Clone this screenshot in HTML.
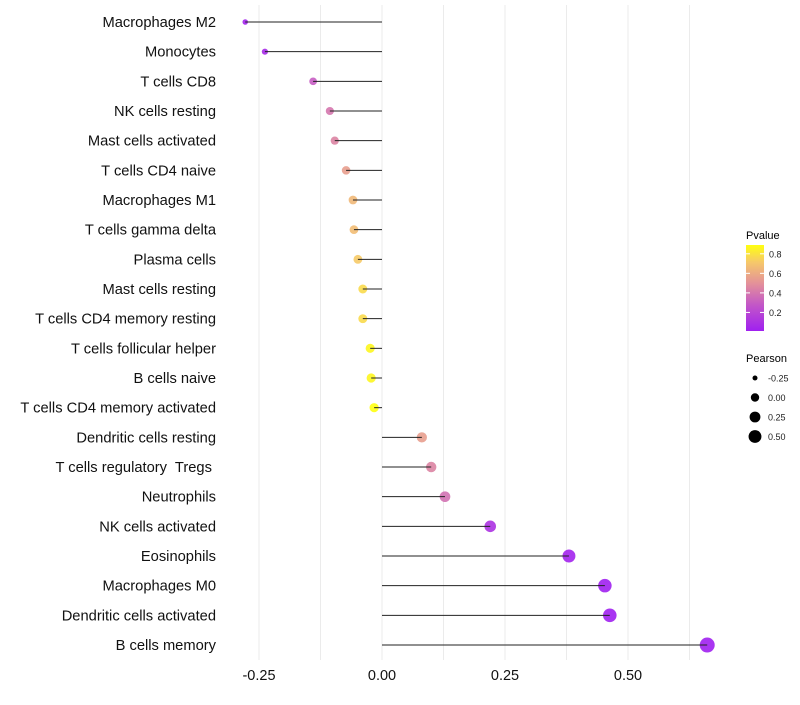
<!DOCTYPE html>
<html><head><meta charset="utf-8"><style>
body{margin:0;background:#fff;}
svg text{font-family:"Liberation Sans",sans-serif;white-space:pre;}
</style></head><body>
<svg id="chart" width="800" height="700" xmlns="http://www.w3.org/2000/svg">
<defs><linearGradient id="pg" x1="0" y1="1" x2="0" y2="0">
<stop offset="0" stop-color="#A020F0"/><stop offset="0.3" stop-color="#C256C8"/><stop offset="0.55" stop-color="#E3909A"/><stop offset="0.8" stop-color="#F6C86A"/><stop offset="1" stop-color="#FFFF10"/></linearGradient></defs>
<g id="grid"></g>
<g id="dots"></g>
<g id="marks"></g>
<g id="ylab"></g>
<g id="xlab"></g>
<g>
<text x="746" y="239" font-size="11">Pvalue</text>
<rect x="746" y="245" width="18" height="86" fill="url(#pg)"/>
<g id="cbticks"></g>
</g>
<g>
<text x="746" y="362" font-size="11">Pearson</text>
<g id="sizeleg"></g>
</g>
</svg>
<script>
const categories=["Macrophages M2","Monocytes","T cells CD8","NK cells resting","Mast cells activated","T cells CD4 naive","Macrophages M1","T cells gamma delta","Plasma cells","Mast cells resting","T cells CD4 memory resting","T cells follicular helper","B cells naive","T cells CD4 memory activated","Dendritic cells resting","T cells regulatory  Tregs ","Neutrophils","NK cells activated","Eosinophils","Macrophages M0","Dendritic cells activated","B cells memory"];
const pearson=[-0.278,-0.238,-0.140,-0.106,-0.096,-0.073,-0.059,-0.057,-0.049,-0.039,-0.039,-0.024,-0.022,-0.016,0.081,0.100,0.128,0.220,0.380,0.453,0.463,0.661];
const pvalue=[0.03,0.06,0.3,0.4,0.45,0.55,0.65,0.67,0.72,0.77,0.77,0.86,0.86,0.9,0.55,0.45,0.38,0.1,0.03,0.01,0.01,0.001];
const xTicks=[-0.25,0,0.25,0.5];
const xTickLabels=["-0.25","0.00","0.25","0.50"];
const xMinor=[-0.125,0.125,0.375,0.625];
const cbTicks=[0.2,0.4,0.6,0.8];
const sizeTicks=[-0.25,0,0.25,0.5];
const sizeTickLabels=["-0.25","0.00","0.25","0.50"];
const NS="http://www.w3.org/2000/svg";
const x=v=>382+v*492;
const y=i=>22+i*29.667;
const r=v=>Math.sqrt(Math.max(2,22+52*v));
const stops=[[0,[160,32,240]],[0.3,[194,86,200]],[0.55,[227,144,154]],[0.8,[246,200,106]],[1,[255,255,16]]];
function col(p){let t=Math.max(0,Math.min(1,(p-0.01)/0.88));for(let k=1;k<stops.length;k++){if(t<=stops[k][0]){const a=stops[k-1],b=stops[k],f=(t-a[0])/(b[0]-a[0]);return "rgb("+a[1].map((c,j)=>Math.round(c+(b[1][j]-c)*f)).join(",")+")";}}return "rgb(255,255,16)";}
function mk(tag,attrs,parent){const e=document.createElementNS(NS,tag);for(const k in attrs)e.setAttribute(k,attrs[k]);parent.appendChild(e);return e;}
const grid=document.getElementById('grid');
xMinor.concat(xTicks).forEach(v=>{const l=mk('line',{x1:x(v),x2:x(v),y1:5,y2:660,stroke:'#ebebeb','stroke-width':1},grid);

});
const marks=document.getElementById('marks'),dots=document.getElementById('dots'),ylab=document.getElementById('ylab'),xlab=document.getElementById('xlab');
categories.forEach((c,i)=>{
 const d=mk('circle',{cx:x(pearson[i]),cy:y(i),r:r(pearson[i]),fill:col(pvalue[i]),'fill-opacity':0.9},dots);
 
 
 const s=mk('line',{x1:x(0),x2:x(pearson[i]),y1:y(i),y2:y(i),stroke:'#222','stroke-width':1},marks);
 
 
 const t=mk('text',{x:216,y:y(i)+5,'font-size':14.7,'text-anchor':'end',fill:'#111'},ylab);t.textContent=c;
 
 
});
xTicks.forEach((v,i)=>{const t=mk('text',{x:x(v),y:680,'font-size':14.5,'text-anchor':'middle',fill:'#111'},xlab);t.textContent=xTickLabels[i];
 
 });
const cb=document.getElementById('cbticks');
cbTicks.forEach(p=>{const yy=331-(p-0.01)/0.88*86;
 mk('line',{x1:746,x2:750,y1:yy,y2:yy,stroke:'#fff'},cb);mk('line',{x1:760,x2:764,y1:yy,y2:yy,stroke:'#fff'},cb);
 const t=mk('text',{x:769,y:yy+3.5,'font-size':9,fill:'#222'},cb);t.textContent=p.toFixed(1);
 
 });
const sl=document.getElementById('sizeleg');
sizeTicks.forEach((v,i)=>{const yy=378+i*19.5;
 const c=mk('circle',{cx:755,cy:yy,r:r(v)-0.5,fill:'#000'},sl);
 
 
 const t=mk('text',{x:768,y:yy+3.5,'font-size':9,fill:'#222'},sl);t.textContent=sizeTickLabels[i];
 
 });
</script>
</body></html>
